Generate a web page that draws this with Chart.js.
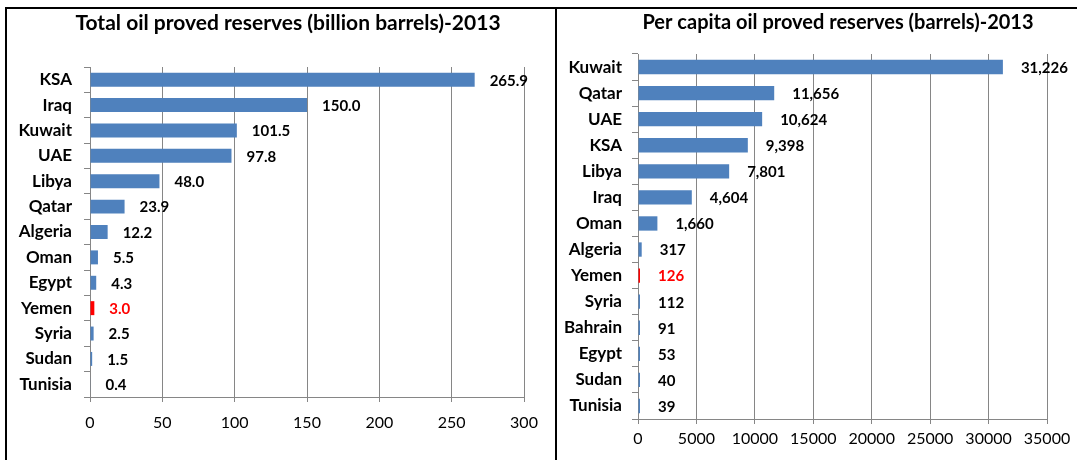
<!DOCTYPE html>
<html>
<head>
<meta charset="utf-8">
<title>Oil proved reserves 2013</title>
<script src="https://cdn.jsdelivr.net/npm/chart.js@4.4.1/dist/chart.umd.min.js"></script>
<style>
  html, body { margin: 0; padding: 0; background: #fff; }
  body { width: 1077px; height: 460px; position: relative; overflow: hidden; }
  .panel { position: absolute; top: 0; }
  .panel canvas { display: block; }
  .rule { position: absolute; background: #000; }
</style>
</head>
<body>
<div class="panel" style="left:0;"><canvas id="totalChart" width="556" height="460"></canvas></div>
<div class="panel" style="left:558px;"><canvas id="perCapitaChart" width="519" height="460"></canvas></div>
<div class="rule" style="left:5px;top:7px;width:1072px;height:2px;"></div>
<div class="rule" style="left:5px;top:7px;width:2px;height:453px;"></div>
<div class="rule" style="left:555px;top:7px;width:2px;height:453px;"></div>
<script>
// Total proved reserves, billion barrels
const totalCountries = ['KSA', 'Iraq', 'Kuwait', 'UAE', 'Libya', 'Qatar', 'Algeria', 'Oman', 'Egypt', 'Yemen', 'Syria', 'Sudan', 'Tunisia'];
const totalReserves = [265.9, 150.0, 101.5, 97.8, 48.0, 23.9, 12.2, 5.5, 4.3, 3.0, 2.5, 1.5, 0.4];
const totalTicks = [0, 50, 100, 150, 200, 250, 300];

// Proved reserves per capita, barrels
const perCapitaCountries = ['Kuwait', 'Qatar', 'UAE', 'KSA', 'Libya', 'Iraq', 'Oman', 'Algeria', 'Yemen', 'Syria', 'Bahrain', 'Egypt', 'Sudan', 'Tunisia'];
const perCapitaReserves = [31226, 11656, 10624, 9398, 7801, 4604, 1660, 317, 126, 112, 91, 53, 40, 39];
const perCapitaTicks = [0, 5000, 10000, 15000, 20000, 25000, 30000, 35000];

const highlighted = 'Yemen';
const BLUE = '#4F81BD';
const RED = '#FF0000';
const GRID = '#868686';
const FONT = 'Lato, "Open Sans", sans-serif';

// Title text plus value labels written just past the end of each bar
const barLabels = {
  id: 'barLabels',
  afterDatasetsDraw(chart, args, opts) {
    const ctx = chart.ctx;
    const meta = chart.getDatasetMeta(0);
    const values = chart.data.datasets[0].data;
    const cats = chart.data.labels;
    ctx.save();
    ctx.font = 'bold 15px ' + FONT;
    ctx.textBaseline = 'middle';
    ctx.textAlign = 'left';
    meta.data.forEach((bar, i) => {
      ctx.fillStyle = cats[i] === highlighted ? RED : '#000';
      ctx.fillText(opts.format(values[i]), bar.x + opts.offset, bar.y + 1);
    });
    ctx.font = 'bold ' + opts.titleSize + 'px ' + FONT;
    ctx.fillStyle = '#000';
    ctx.textAlign = 'center';
    ctx.fillText(opts.title, opts.titleX, opts.titleY);
    ctx.restore();
  }
};

function makeChart(id, cats, values, ticks, cfg) {
  return new Chart(document.getElementById(id), {
    type: 'bar',
    data: {
      labels: cats,
      datasets: [{
        data: values,
        backgroundColor: cats.map(c => c === highlighted ? RED : BLUE),
        borderWidth: 0,
        categoryPercentage: 1,
        barPercentage: 0.55,
        minBarLength: cfg.minBar
      }]
    },
    options: {
      indexAxis: 'y',
      responsive: false,
      animation: false,
      events: [],
      layout: { padding: { top: cfg.top, right: cfg.right, left: 0, bottom: 0 } },
      plugins: {
        legend: { display: false },
        tooltip: { enabled: false },
        title: { display: false },
        barLabels: {
          format: cfg.format,
          offset: cfg.labelOffset,
          title: cfg.title,
          titleSize: cfg.titleSize,
          titleX: cfg.titleX,
          titleY: cfg.titleY
        }
      },
      scales: {
        x: {
          type: 'linear',
          min: ticks[0],
          max: ticks[ticks.length - 1],
          afterBuildTicks(scale) { scale.ticks = ticks.map(v => ({ value: v })); },
          ticks: {
            font: { family: FONT, size: 16 },
            color: '#000',
            padding: cfg.xPad,
            maxRotation: 0,
            callback: v => String(v)
          },
          grid: { color: GRID, lineWidth: 1, tickLength: 5 },
          border: { color: GRID, width: 1 },
          afterFit(scale) { scale.height = cfg.xHeight; }
        },
        y: {
          ticks: {
            font: { family: FONT, size: 17, weight: 'bold' },
            color: '#000',
            padding: cfg.yPad,
            autoSkip: false
          },
          grid: { offset: true, drawOnChartArea: false, tickLength: 6, color: GRID },
          border: { color: GRID, width: 1 },
          afterFit(scale) { scale.width = cfg.yWidth; }
        }
      }
    },
    plugins: [barLabels]
  });
}

function draw() {
  makeChart('totalChart', totalCountries, totalReserves, totalTicks, {
    top: 67, right: 32, xHeight: 63, yWidth: 90, xPad: 11, yPad: 12,
    labelOffset: 15, minBar: 0,
    format: v => v.toFixed(1),
    title: 'Total oil proved reserves (billion barrels)-2013',
    titleSize: 21, titleX: 288, titleY: 23
  });
  makeChart('perCapitaChart', perCapitaCountries, perCapitaReserves, perCapitaTicks, {
    top: 54, right: 30, xHeight: 41, yWidth: 80, xPad: 5, yPad: 10,
    labelOffset: 18, minBar: 2,
    format: v => v.toLocaleString('en-US'),
    title: 'Per capita oil proved reserves (barrels)-2013',
    titleSize: 20, titleX: 280, titleY: 23
  });
}

if (document.fonts && document.fonts.load) {
  Promise.all([
    document.fonts.load('16px Lato'),
    document.fonts.load('bold 15px Lato'),
    document.fonts.load('bold 21px Lato')
  ]).then(draw, draw);
} else {
  draw();
}
</script>
</body>
</html>
